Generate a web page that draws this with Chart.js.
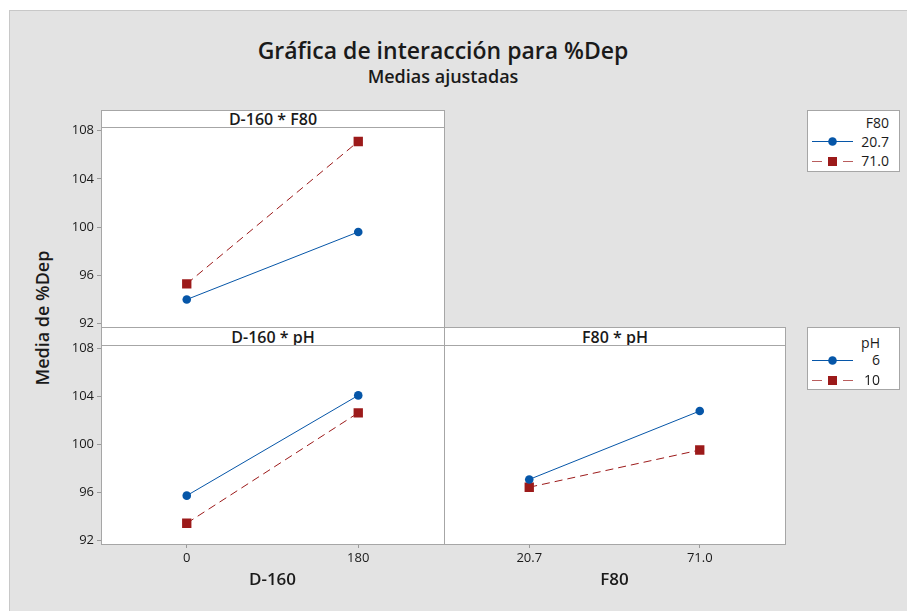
<!DOCTYPE html>
<html>
<head>
<meta charset="utf-8">
<title>Gráfica de interacción para %Dep</title>
<script src="https://cdn.jsdelivr.net/npm/chart.js@4.4.1/dist/chart.umd.min.js"></script>
<style>
  body { margin: 0; width: 907px; height: 611px; overflow: hidden; position: relative; background: #fff;
         font-family: 'Open Sans', 'Noto Sans', sans-serif; color: #1a1a1a; }
  .abs { position: absolute; }
  #bg { left: 9px; top: 10px; width: 910px; height: 610px; background: #e3e3e3;
        border-left: 1px solid #c8c8c8; border-top: 1px solid #c8c8c8; box-sizing: border-box; }
  .title { left: 0; width: 886px; text-align: center; font-weight: 600; white-space: nowrap; }
  .strip { background: #fff; border: 1px solid #a6a6a6; box-sizing: border-box; font-size: 16px; font-weight: 600;
           display: flex; align-items: center; justify-content: center; line-height: 1; }
  .ytitle { width: 200px; text-align: center; font-size: 18px; font-weight: 600; line-height: 24px;
            transform: rotate(-90deg); white-space: nowrap; }
  .legbox { background: #fff; border: 1px solid #a6a6a6; box-sizing: border-box; }
  .legtxt { font-size: 14px; line-height: 18px; text-align: right; white-space: nowrap; }
  canvas { position: absolute; }
</style>
</head>
<body>
<div id="bg" class="abs"></div>
<div class="abs title" style="top:34px;font-size:23px;">Gráfica de interacción para %Dep</div>
<div class="abs title" style="top:64px;font-size:18px;">Medias ajustadas</div>
<div class="abs ytitle" style="left:-58px;top:306px;">Media de %Dep</div>

<div class="abs strip" style="left:101px;top:110px;width:344px;height:18px;">D-160 * F80</div>
<div class="abs strip" style="left:101px;top:327px;width:344px;height:19px;">D-160 * pH</div>
<div class="abs strip" style="left:444px;top:327px;width:342px;height:19px;">F80 * pH</div>

<canvas id="c1" width="385" height="210" style="left:60px;top:122px;"></canvas>
<canvas id="c2" width="385" height="265" style="left:60px;top:340px;"></canvas>
<canvas id="c3" width="342" height="265" style="left:444px;top:340px;"></canvas>

<div id="legends"></div>

<script>
// factor levels
const dLevels = ['0', '180'];
const f80Levels = ['20.7', '71.0'];
const phLevels = ['6', '10'];
const yTicks = [92, 96, 100, 104, 108];

// D-160 * F80 (one line per F80 level)
const dF80Low = [94.0, 99.6];
const dF80High = [95.3, 107.1];
// D-160 * pH
const dPh6 = [95.75, 104.1];
const dPh10 = [93.45, 102.65];
// F80 * pH
const fPh6 = [97.1, 102.8];
const fPh10 = [96.45, 99.55];

const BLUE = '#0656a8';
const RED = '#9c1a1a';
const TXT = '#1a1a1a';
const EDGE = '#a6a6a6';

const framePlugin = {
  id: 'frame',
  beforeDraw(chart) {
    const { ctx, chartArea: a } = chart;
    ctx.save();
    ctx.fillStyle = '#fff';
    ctx.fillRect(a.left, a.top, a.right - a.left, a.bottom - a.top);
    ctx.restore();
  },
  afterDraw(chart) {
    const { ctx, chartArea: a } = chart;
    ctx.save();
    ctx.strokeStyle = EDGE;
    ctx.lineWidth = 1;
    ctx.strokeRect(a.left + 0.5, a.top + 0.5, a.right - a.left, a.bottom - a.top);
    ctx.restore();
  }
};

function blueSet(values) {
  return {
    data: values, borderColor: BLUE, backgroundColor: BLUE, borderWidth: 1,
    pointStyle: 'circle', pointRadius: 4.3, pointBorderWidth: 0, pointHoverRadius: 4.3
  };
}
function redSet(values) {
  return {
    data: values, borderColor: RED, backgroundColor: RED, borderWidth: 1, borderDash: [8, 5],
    pointStyle: 'rect', pointRadius: 6.6, pointBorderWidth: 0, pointHoverRadius: 6.6
  };
}

// pin axis sizes so the plot areas line up across the three panels
function fixSize(prop, size) {
  return s => {
    s[prop] = size;
    s.paddingLeft = 0; s.paddingRight = 0; s.paddingTop = 0; s.paddingBottom = 0;
  };
}

function panel(id, labels, blue, red, showX, showY, xTitle) {
  return new Chart(document.getElementById(id), {
    type: 'line',
    data: { labels: labels, datasets: [blueSet(blue), redSet(red)] },
    plugins: [framePlugin],
    options: {
      responsive: false,
      animation: false,
      events: [],
      layout: { autoPadding: false, padding: { top: 5, right: 1, bottom: showX ? 0 : 5, left: 0 } },
      plugins: { legend: { display: false }, tooltip: { enabled: false } },
      scales: {
        x: {
          type: 'category',
          offset: true,
          display: showX,
          grid: { offset: false, drawOnChartArea: false, drawTicks: true, tickLength: 4, color: '#9a9a9a' },
          border: { display: false },
          ticks: { padding: 2, color: TXT, font: { family: 'Open Sans', size: 13 } },
          title: {
            display: true, text: xTitle, color: TXT,
            font: { family: 'Open Sans', size: 17, weight: '600' },
            padding: { top: 0, bottom: 15 }
          },
          afterFit: fixSize('height', showX ? 61 : 0)
        },
        y: {
          min: 91.72,
          max: 108.3,
          display: showY,
          afterBuildTicks: s => { s.ticks = yTicks.map(v => ({ value: v })); },
          afterFit: fixSize('width', showY ? 41 : 0),
          grid: { drawOnChartArea: false, drawTicks: true, tickLength: 4, color: '#9a9a9a' },
          border: { display: false },
          ticks: { padding: 3, color: TXT, font: { family: 'Open Sans', size: 13 } }
        }
      }
    }
  });
}

panel('c1', dLevels, dF80Low, dF80High, false, true, 'D-160');
panel('c2', dLevels, dPh6, dPh10, true, true, 'D-160');
panel('c3', f80Levels, fPh6, fPh10, true, false, 'F80');

// legends on the right
function legend(top, height, title, levels, rightEdge, rows) {
  const host = document.getElementById('legends');
  let html = `<div class="abs legbox" style="left:807px;top:${top}px;width:93px;height:${height}px;"></div>`;
  html += `<div class="abs legtxt" style="right:${907 - rightEdge}px;top:${rows[0] - 9}px;">${title}</div>`;
  const syms = [
    `<line x1="2" y1="7.5" x2="43" y2="7.5" stroke="${BLUE}" stroke-width="1"/>` +
    `<circle cx="22.5" cy="7.5" r="4.3" fill="${BLUE}"/>`,
    `<line x1="2" y1="7.5" x2="12" y2="7.5" stroke="${RED}" stroke-width="1" opacity="0.7"/>` +
    `<rect x="18" y="3" width="9" height="9" fill="${RED}"/>` +
    `<line x1="33" y1="7.5" x2="43" y2="7.5" stroke="${RED}" stroke-width="1" opacity="0.7"/>`
  ];
  levels.forEach((lv, i) => {
    const y = rows[i + 1];
    html += `<svg class="abs" style="left:810px;top:${y - 7.5}px;" width="46" height="15">${syms[i]}</svg>`;
    html += `<div class="abs legtxt" style="right:${907 - rightEdge}px;top:${y - 9}px;">${lv}</div>`;
  });
  host.insertAdjacentHTML('beforeend', html);
}
legend(110, 62, 'F80', f80Levels, 889, [122.7, 141.7, 161]);
legend(327, 63, 'pH', phLevels, 880, [342.7, 360, 380]);
</script>
</body>
</html>
